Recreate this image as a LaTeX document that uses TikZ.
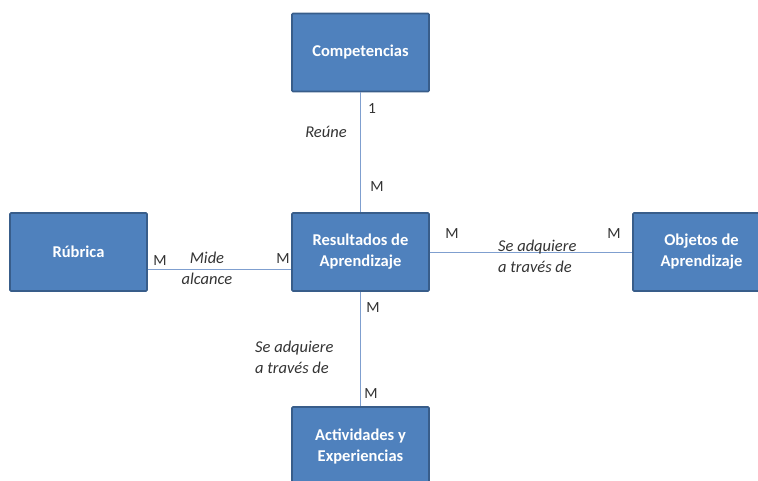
\documentclass[tikz,border=0pt]{standalone}
\usepackage{fontspec}
\setmainfont{Carlito}
\usetikzlibrary{positioning,calc}
\definecolor{boxfill}{HTML}{4F81BD}
\definecolor{boxline}{HTML}{385D8A}
\definecolor{linkcol}{HTML}{7F9FCF}
\definecolor{labcol}{HTML}{333333}

\begin{document}
\begin{tikzpicture}[x=1pt, y=-1pt,
  ent/.style={rectangle, draw=boxline, line width=1.6pt, fill=boxfill, rounded corners=1pt,
    minimum width=137pt, minimum height=78pt, align=center, text=white,
    font=\fontsize{16.5}{21}\selectfont\bfseries},
  link/.style={linkcol, line width=1pt},
  card/.style={text=labcol, font=\fontsize{15.5}{17}\selectfont, inner sep=0pt},
  rel/.style={text=labcol, font=\fontsize{16.5}{21}\selectfont\itshape, inner sep=0pt, align=left}
]
  \useasboundingbox (0,0) rectangle (758,480);
  % entities
  \node[ent] (comp) at (360.5,52.5) {Competencias};
  \node[ent] (res) at (360.5,252) {Resultados de\\Aprendizaje};
  \node[ent] (rub) at (78.5,252) {Rúbrica};
  \node[ent] (obj) at (701.5,252) {Objetos de\\Aprendizaje};
  \node[ent] (act) at (360.5,446) {Actividades y\\Experiencias};
  % relations
  \draw[link] (comp) -- (res);
  \draw[link] (res) -- (act);
  \draw[link] (res) -- (obj);
  \draw[link] ([yshift=-17pt]rub.east) -- ([yshift=-17pt]res.west);
  % cardinalities
  \node[card] (c1) at (372,109) {1};
  \node[card] (c2) at (377,187) {M};
  \node[card] (c3) at (160,261) {M};
  \node[card] (c4) at (283,259) {M};
  \node[card] (c5) at (452,234) {M};
  \node[card] (c6) at (614,234) {M};
  \node[card] (c7) at (373,308) {M};
  \node[card] (c8) at (371,394) {M};
  % relation names
  \node[rel] (reune) at (326,132) {Reúne};
  \node[rel, align=center] (mide) at (207,268) {Mide\\alcance};
  \node[rel, anchor=west] (adqobj) at (498,256) {Se adquiere\\a través de};
  \node[rel, anchor=west] (adqact) at (255,357) {Se adquiere\\a través de};
\end{tikzpicture}
\end{document}
